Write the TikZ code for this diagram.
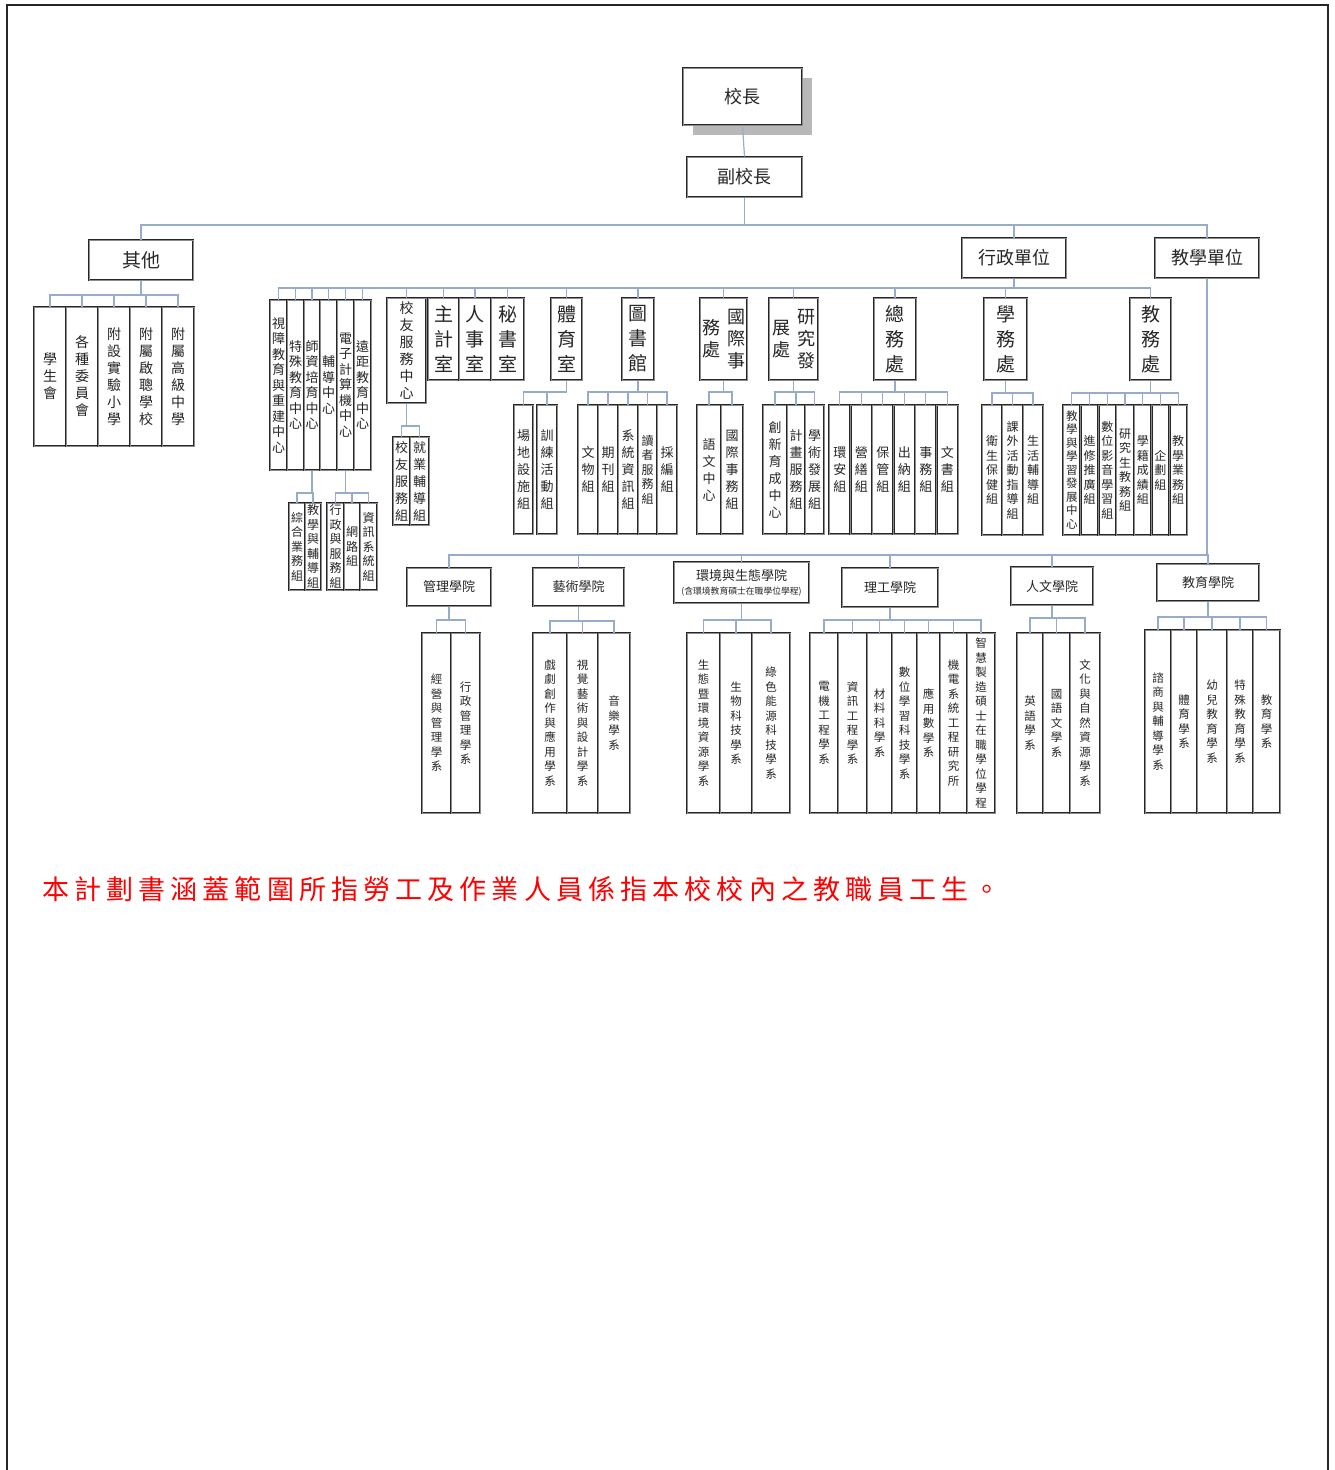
\documentclass[tikz,border=0pt]{standalone}
\usepackage{fontspec}
\setmainfont{Noto Sans CJK TC}
\newfontfamily\redfont{Noto Sans CJK TC}[LetterSpace=19]
\ExplSyntaxOn
\NewDocumentCommand\vt{m}
 {
  \seq_clear:N \l_tmpa_seq
  \tl_map_inline:nn {#1} { \seq_put_right:Nn \l_tmpa_seq {##1} }
  \seq_use:Nn \l_tmpa_seq { \\ }
 }
\ExplSyntaxOff
\newcommand\zfS{\fontsize{14}{17}\selectfont}
\newcommand\zfG{\fontsize{13}{15.5}\selectfont}
\newcommand\zfM{\fontsize{19}{25}\selectfont}
\newcommand\zfT{\fontsize{18}{22}\selectfont}
\newcommand\zfC{\fontsize{13}{17}\selectfont}
\newcommand\zfK{\fontsize{12}{14.5}\selectfont}
\newcommand\zfE{\fontsize{11.5}{13.5}\selectfont}
\newcommand\zfD{\fontsize{11.5}{14.5}\selectfont}
\newcommand\zfH{\fontsize{18}{20}\selectfont}
\newcommand\zfL{\fontsize{13}{15}\selectfont}
\definecolor{conn}{RGB}{150,172,202}
\tikzset{
  bx/.style={draw=black!85, line width=1pt, double=black!45, double distance=0.5pt,
             fill=white, inner sep=0pt, align=center, text=black!85, rectangle},
  cn/.style={draw=conn, line width=1.2pt},
  tx/.style={inner sep=0pt, align=center, text=black!85}
}
% box: name x1 y1 x2 y2 font text (vertical)
\newcommand\B[7]{\node[bx,font=#6,minimum width={(#4)-(#2)},minimum height={(#5)-(#3)}] (#1) at ({((#2)+(#4))/2},{((#3)+(#5))/2}) {\vt{#7}};}
% box with horizontal text
\newcommand\HB[7]{\node[bx,font=#6,minimum width={(#4)-(#2)},minimum height={(#5)-(#3)}] (#1) at ({((#2)+(#4))/2},{((#3)+(#5))/2}) {#7};}
\newcommand\tree[3]{\foreach \cc in {#3}{\draw[cn] (#1.south) -- (#1.south |- 0,#2) -| (\cc.north);}}

\begin{document}
\begin{tikzpicture}[x=1pt,y=-1pt]
\useasboundingbox (0,0) rectangle (1335,1470);
% page frame
\draw[black!85, line width=1.6pt] (7,1470) -- (7,5) -- (1328,5) -- (1328,1470);

% top
\fill[black!28] (693,78) rectangle (812,135);
\HB{pres}{683}{68}{802}{125}{\zfH}{校長}
\HB{vp}{687}{157}{802}{197}{\zfH}{副校長}
\HB{other}{89}{240}{193}{280}{\fontsize{19}{21}\selectfont}{其他}
\HB{admin}{962}{238}{1066}{278}{\zfH}{行政單位}
\HB{teach}{1155}{238}{1259}{278}{\zfH}{教學單位}

% other children
\B{o1}{34}{307}{66}{446}{\zfS}{學生會}
\B{o2}{66}{307}{98}{446}{\zfS}{各種委員會}
\B{o3}{98}{307}{130}{446}{\zfS}{附設實驗小學}
\B{o4}{130}{307}{162}{446}{\zfS}{附屬啟聰學校}
\B{o5}{162}{307}{194}{446}{\zfS}{附屬高級中學}

% six-column centres
\B{g1}{270}{300}{287}{470}{\zfG}{視障教育與重建中心}
\B{g2}{287}{300}{304}{470}{\zfG}{特殊教育中心}
\B{g3}{304}{300}{320}{470}{\zfG}{師資培育中心}
\B{g4}{320}{300}{337}{470}{\zfG}{輔導中心}
\B{g5}{337}{300}{354}{470}{\zfG}{電子計算機中心}
\B{g6}{354}{300}{371}{470}{\zfG}{遠距教育中心}
\B{g3a}{289}{503}{305}{590}{\zfK}{綜合業務組}
\B{g3b}{305}{503}{321}{590}{\zfK}{教學與輔導組}
\B{g5a}{327}{503}{344}{590}{\zfK}{行政與服務組}
\B{g5b}{344}{503}{360}{590}{\zfK}{網路組}
\B{g5c}{360}{503}{377}{590}{\zfK}{資訊系統組}

% alumni
\B{alum}{387}{298}{426}{403}{\fontsize{14}{17}\selectfont}{校友服務中心}
\B{alumA}{393}{437}{410}{525}{\zfC}{校友服務組}
\B{alumB}{410}{437}{429}{525}{\zfC}{就業輔導組}

% offices
\B{acct}{428}{298}{459}{380}{\zfM}{主計室}
\B{hr}{459}{298}{491}{380}{\zfM}{人事室}
\B{sec}{491}{298}{524}{380}{\zfM}{秘書室}
\B{pe}{551}{298}{582}{380}{\zfM}{體育室}
\B{lib}{622}{298}{654}{380}{\zfM}{圖書館}
\HB{intl}{700}{298}{747}{380}{\zfT}{}
\node[tx,font=\zfT] (intlR) at (736,339) {\vt{國際事}};
\node[tx,font=\zfT] (intlL) at (711,339) {\vt{務處}};
\HB{rd}{769}{298}{818}{380}{\zfT}{}
\node[tx,font=\zfT] (rdR) at (806,339) {\vt{研究發}};
\node[tx,font=\zfT] (rdL) at (781,339) {\vt{展處}};
\B{gen}{874}{298}{916}{380}{\zfM}{總務處}
\B{stu}{984}{298}{1027}{380}{\zfM}{學務處}
\B{aca}{1130}{298}{1171}{380}{\zfM}{教務處}

% second level admin
\B{peA}{514}{405}{533}{534}{\zfC}{場地設施組}
\B{peB}{537}{405}{557}{534}{\zfC}{訓練活動組}
\B{lib1}{578}{405}{598}{534}{\zfC}{文物組}
\B{lib2}{598}{405}{618}{534}{\zfC}{期刊組}
\B{lib3}{618}{405}{638}{534}{\zfC}{系統資訊組}
\B{lib4}{638}{405}{657}{534}{\zfK}{讀者服務組}
\B{lib5}{657}{405}{677}{534}{\zfC}{採編組}
\B{intlA}{697}{405}{721}{534}{\zfC}{語文中心}
\B{intlB}{721}{405}{743}{534}{\zfC}{國際事務組}
\B{rdA}{763}{405}{787}{534}{\zfC}{創新育成中心}
\B{rdB}{787}{405}{805}{534}{\zfC}{計畫服務組}
\B{rdC}{805}{405}{824}{534}{\zfC}{學術發展組}
\B{gen1}{829}{405}{850.5}{534}{\zfC}{環安組}
\B{gen2}{850.5}{405}{872}{534}{\zfC}{營繕組}
\B{gen3}{872}{405}{893.5}{534}{\zfC}{保管組}
\B{gen4}{893.5}{405}{915}{534}{\zfC}{出納組}
\B{gen5}{915}{405}{936.5}{534}{\zfC}{事務組}
\B{gen6}{936.5}{405}{958}{534}{\zfC}{文書組}
\B{stu1}{982}{405}{1002}{535}{\zfK}{衛生保健組}
\B{stu2}{1002}{405}{1023}{535}{\zfK}{課外活動指導組}
\B{stu3}{1023}{405}{1043}{535}{\zfK}{生活輔導組}
\B{aca1}{1063}{405}{1080.7}{535}{\zfE}{教學與學習發展中心}
\B{aca2}{1080.7}{405}{1098.4}{535}{\zfK}{進修推廣組}
\B{aca3}{1098.4}{405}{1116.1}{535}{\zfK}{數位影音學習組}
\B{aca4}{1116.1}{405}{1133.9}{535}{\zfK}{研究生教務組}
\B{aca5}{1133.9}{405}{1151.6}{535}{\zfK}{學籍成績組}
\B{aca6}{1151.6}{405}{1169.3}{535}{\zfK}{企劃組}
\B{aca7}{1169.3}{405}{1187}{535}{\zfK}{教學業務組}

% colleges
\HB{mgmt}{407}{568}{491}{606}{\zfL}{管理學院}
\HB{art}{533}{568}{624}{606}{\zfL}{藝術學院}
\HB{env}{674}{562}{809}{603}{\zfL}{環境與生態學院\\[-1pt]{\fontsize{8.8}{10}\selectfont (含環境教育碩士在職學位學程)}}
\HB{sci}{842}{568}{938}{607}{\zfL}{理工學院}
\HB{hum}{1011}{567}{1093}{605}{\zfL}{人文學院}
\HB{edu}{1157}{564}{1259}{601}{\zfL}{教育學院}

% departments
\B{m1}{422}{633}{451}{813}{\zfD}{經營與管理學系}
\B{m2}{451}{633}{480}{813}{\zfD}{行政管理學系}
\B{a1}{533}{633}{567}{813}{\zfD}{戲劇創作與應用學系}
\B{a2}{567}{633}{598}{813}{\zfD}{視覺藝術與設計學系}
\B{a3}{598}{633}{630}{813}{\zfD}{音樂學系}
\B{e1}{687}{633}{720}{813}{\zfD}{生態暨環境資源學系}
\B{e2}{720}{633}{752}{813}{\zfD}{生物科技學系}
\B{e3}{752}{633}{790}{813}{\zfD}{綠色能源科技學系}
\B{s1}{810}{633}{838}{813}{\zfD}{電機工程學系}
\B{s2}{838}{633}{867}{813}{\zfD}{資訊工程學系}
\B{s3}{867}{633}{892}{813}{\zfD}{材料科學系}
\B{s4}{892}{633}{917}{813}{\zfD}{數位學習科技學系}
\B{s5}{917}{633}{940}{813}{\zfD}{應用數學系}
\B{s6}{940}{633}{967}{813}{\zfD}{機電系統工程研究所}
\B{s7}{967}{633}{995}{813}{\zfD}{智慧製造碩士在職學位學程}
\B{h1}{1017}{633}{1043}{813}{\zfD}{英語學系}
\B{h2}{1043}{633}{1070}{813}{\zfD}{國語文學系}
\B{h3}{1070}{633}{1100}{813}{\zfD}{文化與自然資源學系}
\B{d1}{1145}{630}{1171}{813}{\zfD}{諮商與輔導學系}
\B{d2}{1171}{630}{1197}{813}{\zfD}{體育學系}
\B{d3}{1197}{630}{1227}{813}{\zfD}{幼兒教育學系}
\B{d4}{1227}{630}{1253}{813}{\zfD}{特殊教育學系}
\B{d5}{1253}{630}{1280}{813}{\zfD}{教育學系}

% connectors
\draw[cn] (pres.south) -- (vp.north);
\tree{vp}{225}{other,admin,teach}
\tree{other}{295}{o1,o2,o3,o4,o5}
\tree{admin}{288}{g1,g2,g3,g4,g5,g6,alum,acct,hr,sec,pe,lib,intl,rd,gen,stu,aca}
\tree{g3}{493}{g3a,g3b}
\tree{g5}{493}{g5a,g5b,g5c}
\tree{alum}{426}{alumA,alumB}
\tree{pe}{392}{peA,peB}
\tree{lib}{392}{lib1,lib2,lib3,lib4,lib5}
\tree{intl}{392}{intlA,intlB}
\tree{rd}{392}{rdA,rdB,rdC}
\tree{gen}{392}{gen1,gen2,gen3,gen4,gen5,gen6}
\tree{stu}{393}{stu1,stu2,stu3}
\tree{aca}{393}{aca1,aca2,aca3,aca4,aca5,aca6,aca7}
\tree{teach}{555}{mgmt,art,env,sci,hum,edu}
\tree{mgmt}{620}{m1,m2}
\tree{art}{621}{a1,a2,a3}
\tree{env}{620}{e1,e2,e3}
\tree{sci}{620}{s1,s2,s3,s4,s5,s6,s7}
\tree{hum}{618}{h1,h2,h3}
\tree{edu}{617}{d1,d2,d3,d4,d5}

% note
\node[anchor=west, inner sep=0pt, text=red, font=\redfont\fontsize{27}{30}\selectfont] (note) at (42,889) {本計劃書涵蓋範圍所指勞工及作業人員係指本校校內之教職員工生。};
\end{tikzpicture}
\end{document}
